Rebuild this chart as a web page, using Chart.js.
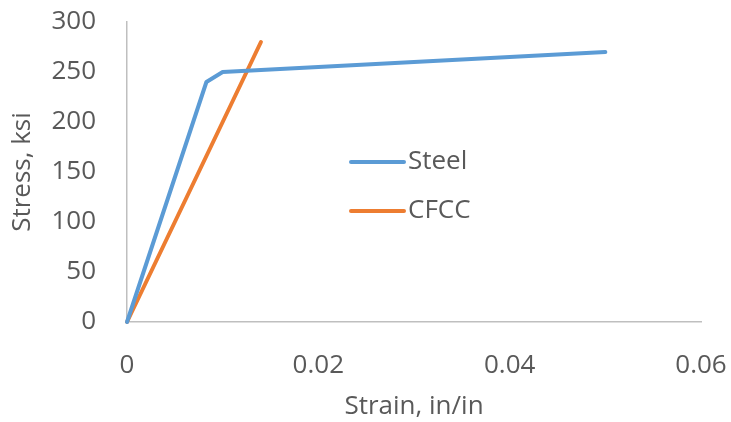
<!DOCTYPE html>
<html>
<head>
<meta charset="utf-8">
<script src="https://cdn.jsdelivr.net/npm/chart.js@4.4.0/dist/chart.umd.min.js"></script>
<style>
  html, body { margin: 0; padding: 0; background: #fff; }
  #wrap { width: 731px; height: 422px; position: relative; }
</style>
</head>
<body>
<div id="wrap"><canvas id="stressChart"></canvas></div>
<script>
// ========== DATA ==========
var steelStrain = [0, 0.0083, 0.01, 0.05];
var steelStress = [0, 240, 250, 270];
var cfccStrain = [0, 0.014];
var cfccStress = [0, 280];
var seriesNames = ["Steel", "CFCC"];
var xTicks = [0, 0.02, 0.04, 0.06];
var yTicks = [0, 50, 100, 150, 200, 250, 300];

function toPoints(xs, ys) {
  return xs.map(function (x, i) { return { x: x, y: ys[i] }; });
}

var textColor = "#595959";
var fontFamily = "'Open Sans', 'Noto Sans', sans-serif";
var fontSize = 26;

// legend drawn inside the plot, like the original
var inlineLegend = {
  id: "inlineLegend",
  afterDraw: function (chart) {
    var ctx = chart.ctx;
    var area = chart.chartArea;
    var x0 = area.left + 224;
    var y0 = area.top + 140;
    ctx.save();
    ctx.font = fontSize + "px " + fontFamily;
    ctx.textBaseline = "middle";
    chart.data.datasets.forEach(function (ds, i) {
      var y = y0 + i * 49;
      ctx.strokeStyle = ds.borderColor;
      ctx.lineWidth = 4;
      ctx.lineCap = "round";
      ctx.beginPath();
      ctx.moveTo(x0, y);
      ctx.lineTo(x0 + 53, y);
      ctx.stroke();
      ctx.fillStyle = textColor;
      ctx.fillText(ds.label, x0 + 57, y);
    });
    ctx.restore();
  }
};

var ctx = document.getElementById("stressChart");
new Chart(ctx, {
  type: "scatter",
  data: {
    datasets: [
      {
        label: seriesNames[0],
        data: toPoints(steelStrain, steelStress),
        showLine: true,
        borderColor: "#5B9BD5",
        backgroundColor: "#5B9BD5",
        borderWidth: 4,
        borderCapStyle: "round",
        borderJoinStyle: "round",
        pointRadius: 0,
        clip: false
      },
      {
        label: seriesNames[1],
        data: toPoints(cfccStrain, cfccStress),
        showLine: true,
        borderColor: "#ED7D31",
        backgroundColor: "#ED7D31",
        borderWidth: 4,
        borderCapStyle: "round",
        borderJoinStyle: "round",
        pointRadius: 0,
        clip: false
      }
    ]
  },
  options: {
    responsive: true,
    maintainAspectRatio: false,
    animation: false,
    layout: { padding: { top: 22, right: 30, left: 0, bottom: 0 } },
    plugins: {
      legend: { display: false },
      tooltip: { enabled: false }
    },
    scales: {
      x: {
        type: "linear",
        min: xTicks[0],
        max: xTicks[xTicks.length - 1],
        afterBuildTicks: function (scale) {
          scale.ticks = xTicks.map(function (v) { return { value: v }; });
        },
        afterFit: function (scale) {
          scale.height = 100;
          scale.paddingLeft = 0;
          scale.paddingRight = 0;
        },
        grid: { display: false, drawTicks: false },
        border: { display: true, color: "#bfbfbf", width: 1.5 },
        ticks: {
          padding: 28,
          color: textColor,
          font: { size: fontSize, family: fontFamily },
          callback: function (v) { return String(+v.toFixed(2)); }
        },
        title: {
          display: true,
          text: "Strain, in/in",
          color: textColor,
          font: { size: fontSize, family: fontFamily },
          padding: { top: 4, bottom: 0 }
        }
      },
      y: {
        type: "linear",
        min: yTicks[0],
        max: yTicks[yTicks.length - 1],
        afterBuildTicks: function (scale) {
          scale.ticks = yTicks.map(function (v) { return { value: v }; });
        },
        afterFit: function (scale) {
          scale.width = 127;
          scale.paddingTop = 0;
          scale.paddingBottom = 0;
        },
        grid: { display: false, drawTicks: false },
        border: { display: true, color: "#bfbfbf", width: 1.5 },
        ticks: {
          padding: 31,
          color: textColor,
          font: { size: fontSize, family: fontFamily }
        },
        title: {
          display: true,
          text: "Stress, ksi",
          color: textColor,
          font: { size: fontSize, family: fontFamily },
          padding: { top: 7, bottom: 0 }
        }
      }
    }
  },
  plugins: [inlineLegend]
});
</script>
</body>
</html>
